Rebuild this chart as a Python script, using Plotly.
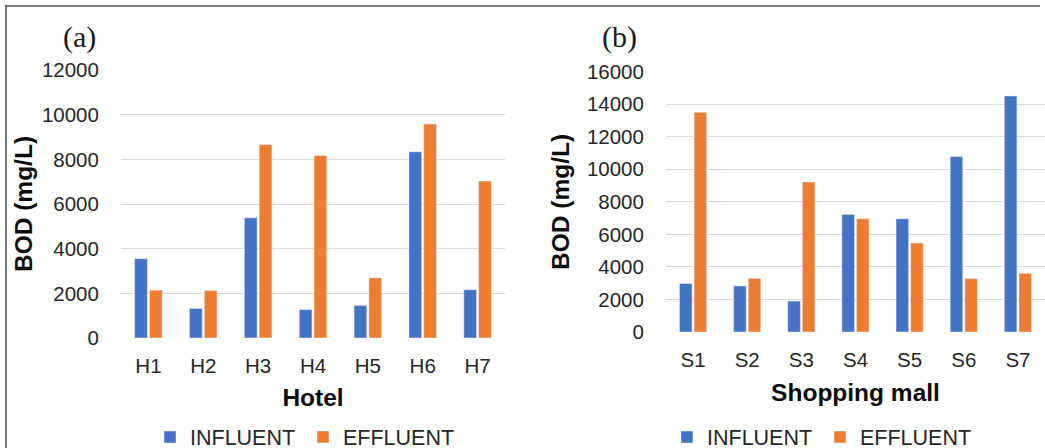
import plotly.graph_objects as go

hotels = ["H1", "H2", "H3", "H4", "H5", "H6", "H7"]
hotel_influent = [3550, 1320, 5380, 1270, 1460, 8340, 2160]
hotel_effluent = [2140, 2120, 8660, 8170, 2690, 9580, 7030]

malls = ["S1", "S2", "S3", "S4", "S5", "S6", "S7"]
mall_influent = [2980, 2830, 1900, 7230, 6960, 10780, 14510]
mall_effluent = [13510, 3300, 9220, 6960, 5470, 3280, 3610]

left_ticks = [0, 2000, 4000, 6000, 8000, 10000, 12000]
right_ticks = [0, 2000, 4000, 6000, 8000, 10000, 12000, 14000, 16000]

BLUE = "#4472C4"
ORANGE = "#ED7D31"
FONT = "Arial, Liberation Sans, sans-serif"
W, H = 1045, 448

fig = go.Figure()

fig.add_trace(go.Bar(x=hotels, y=hotel_influent, name="INFLUENT", marker_color=BLUE,
                     xaxis="x", yaxis="y", legend="legend"))
fig.add_trace(go.Bar(x=hotels, y=hotel_effluent, name="EFFLUENT", marker_color=ORANGE,
                     xaxis="x", yaxis="y", legend="legend"))
fig.add_trace(go.Bar(x=malls, y=mall_influent, name="INFLUENT", marker_color=BLUE,
                     xaxis="x2", yaxis="y2", legend="legend2"))
fig.add_trace(go.Bar(x=malls, y=mall_effluent, name="EFFLUENT", marker_color=ORANGE,
                     xaxis="x2", yaxis="y2", legend="legend2"))

def px_x(v):
    return v / W

def px_y(v):
    return 1 - v / H

tickfont = dict(family=FONT, size=20.5, color="#262626")
titlefont = dict(family=FONT, size=24.5, color="#0d0d0d")

common_x = dict(showgrid=False, showline=False, zeroline=False, ticks="outside",
                ticklen=9, tickcolor="rgba(0,0,0,0)", tickfont=tickfont, automargin=False)
common_y = dict(showgrid=True, gridcolor="#d9d9d9", gridwidth=1.3, zeroline=False,
                showline=False, ticks="outside", ticklen=17, tickcolor="rgba(0,0,0,0)",
                tickfont=tickfont, tickformat="d", automargin=False)

legend_font = dict(family=FONT, size=21.5, color="#262626")
serif_font = dict(family="Liberation Serif, Times New Roman, serif", size=30, color="#1a1a1a")

fig.update_layout(
    width=W, height=H,
    margin=dict(l=0, r=0, t=0, b=0, autoexpand=False),
    paper_bgcolor="white", plot_bgcolor="white",
    barmode="group", bargap=0.46, bargroupgap=0.14,
    font=dict(family=FONT),
    xaxis=dict(domain=[px_x(121), px_x(505)], anchor="y",
               title=dict(text="<b>Hotel</b>", font=titlefont, standoff=13), **common_x),
    yaxis=dict(domain=[px_y(338), px_y(70)], anchor="x", range=[0, 12000],
               tickvals=left_ticks,
               title=dict(text="<b>BOD (mg/L)</b>", font=titlefont, standoff=2), **common_y),
    xaxis2=dict(domain=[px_x(666), 1.0], anchor="y2",
                title=dict(text="<b>Shopping mall</b>", font=titlefont, standoff=14), **common_x),
    yaxis2=dict(domain=[px_y(332), px_y(71.7)], anchor="x2", range=[0, 16000],
                tickvals=right_ticks,
                title=dict(text="<b>BOD (mg/L)</b>", font=titlefont, standoff=10), **common_y),
    legend=dict(orientation="h", x=px_x(150), xanchor="left", y=px_y(437), yanchor="middle",
                font=legend_font, itemwidth=30, entrywidth=108, bgcolor="rgba(0,0,0,0)"),
    legend2=dict(orientation="h", x=px_x(667), xanchor="left", y=px_y(437), yanchor="middle",
                 font=legend_font, itemwidth=30, entrywidth=108, bgcolor="rgba(0,0,0,0)"),
    annotations=[
        dict(text="(a)", x=px_x(79), y=px_y(37), xref="paper", yref="paper",
             xanchor="center", yanchor="middle", showarrow=False, font=serif_font),
        dict(text="(b)", x=px_x(619), y=px_y(37), xref="paper", yref="paper",
             xanchor="center", yanchor="middle", showarrow=False, font=serif_font),
    ],
    shapes=[
        dict(type="line", xref="paper", yref="paper", x0=px_x(5), x1=px_x(1040),
             y0=px_y(6), y1=px_y(6), line=dict(color="#555555", width=1.6)),
        dict(type="line", xref="paper", yref="paper", x0=px_x(6), x1=px_x(6),
             y0=px_y(5.2), y1=0, line=dict(color="#555555", width=1.6)),
    ],
)

fig.write_html("out.html", config={"displayModeBar": False},
               post_script="document.body.style.margin='0px';")
